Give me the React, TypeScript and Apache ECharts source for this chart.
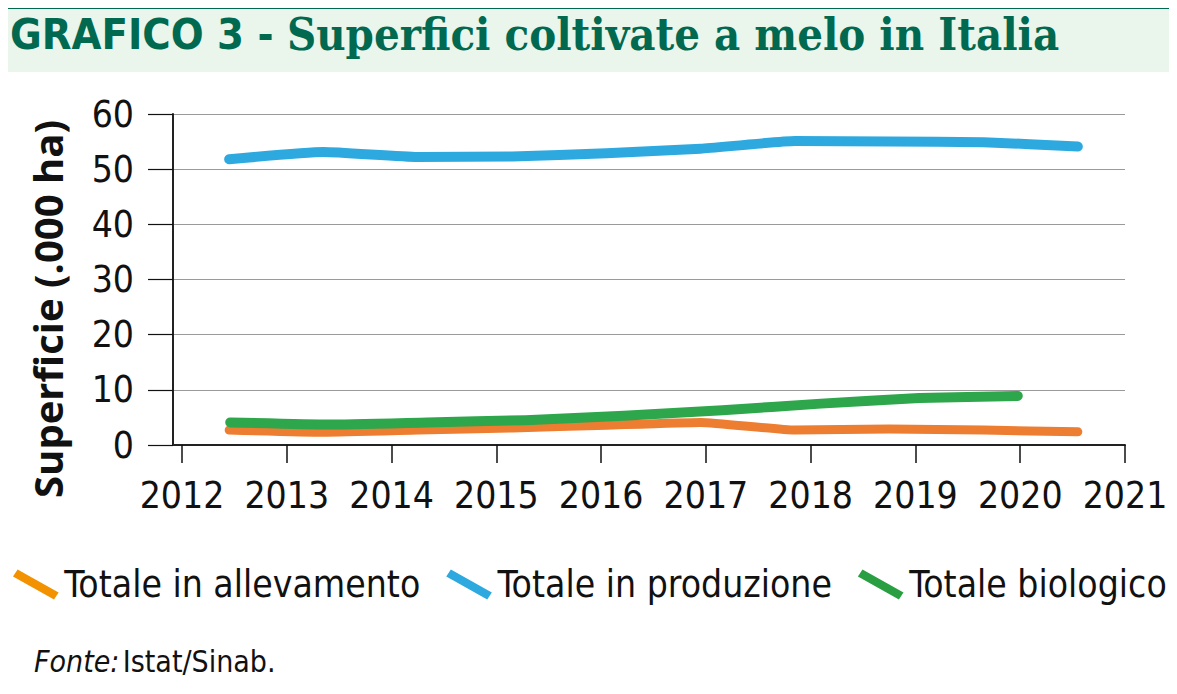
import React, { useEffect, useRef } from "react";
import * as echarts from "echarts";

const years = ["2012", "2013", "2014", "2015", "2016", "2017", "2018", "2019", "2020", "2021"];
const yearsBio = ["2012", "2013", "2014", "2015", "2016", "2017", "2018", "2019", "2020"];
const xTickLabels = [2012, 2013, 2014, 2015, 2016, 2017, 2018, 2019, 2020, 2021];
const allevamento = [2.7, 2.3, 2.7, 3.1, 3.6, 4.1, 2.7, 2.9, 2.7, 2.4];
const produzione = [51.8, 53.1, 52.2, 52.3, 52.9, 53.7, 55.1, 55.0, 54.9, 54.1];
const biologico = [4.1, 3.7, 4.1, 4.5, 5.3, 6.3, 7.5, 8.5, 8.9];

const NARROW = '"Liberation Sans Narrow", "DejaVu Sans Condensed", "Roboto", sans-serif';
const TITLE_GREEN = "#00694F";

export default function App() {
  const ref = useRef<HTMLDivElement>(null);
  useEffect(() => {
    if (!ref.current) return;
    const chart = echarts.init(ref.current, undefined, { renderer: "svg" });
    const top = 114;
    const bottom = 694 - 445;
    const hiddenY = { type: "value", min: 0, max: 60, show: false };
    const lineStyleBase = { width: 10, cap: "round", join: "round" };
    chart.setOption({
      animation: false,
      backgroundColor: "#ffffff",
      grid: [
        { left: 173, right: 52, top, bottom },
        { left: 182, right: 52, top, bottom },
        { left: 181, right: 110, top, bottom },
      ],
      xAxis: [
        {
          type: "value",
          gridIndex: 0,
          min: 2011.914,
          max: 2021,
          splitLine: { show: false },
          axisLine: { show: true, lineStyle: { color: "#222", width: 2 } },
          axisTick: {
            show: true,
            length: 18,
            customValues: xTickLabels,
            lineStyle: { color: "#111", width: 1.5 },
          },
          axisLabel: {
            customValues: xTickLabels,
            margin: 32,
            fontSize: 37,
            fontFamily: NARROW,
            color: "#111",
            formatter: (v: number) => String(v),
          },
        },
        { type: "category", gridIndex: 1, data: years, boundaryGap: true, show: false },
        { type: "category", gridIndex: 2, data: yearsBio, boundaryGap: true, show: false },
      ],
      yAxis: [
        {
          type: "value",
          gridIndex: 0,
          min: 0,
          max: 60,
          interval: 10,
          axisLine: { show: true, lineStyle: { color: "#222", width: 2 } },
          axisTick: { show: true, length: 25, inside: false, lineStyle: { color: "#111", width: 1.2 } },
          axisLabel: { margin: 39, fontSize: 37, fontFamily: NARROW, color: "#111" },
          splitLine: { show: true, lineStyle: { color: "#9a9a9a", width: 1.2 } },
        },
        { ...hiddenY, gridIndex: 1 },
        { ...hiddenY, gridIndex: 2 },
      ],
      legend: {
        left: 8,
        top: 561,
        width: 1170,
        itemWidth: 47,
        itemHeight: 30,
        itemGap: 26,
        icon: "path://M5.3,0L0.7,7L41.7,30L46.3,23Z",
        textStyle: { fontSize: 37, fontFamily: NARROW, color: "#111" },
        data: [
          { name: "Totale in allevamento", itemStyle: { color: "#F39200" } },
          { name: "Totale in produzione", itemStyle: { color: "#2EA9DF" } },
          { name: "Totale biologico", itemStyle: { color: "#2A9F42" } },
        ],
      },
      series: [
        {
          name: "Totale in allevamento",
          type: "line",
          xAxisIndex: 1,
          yAxisIndex: 1,
          data: allevamento,
          showSymbol: false,
          smooth: 0.15,
          itemStyle: { color: "#ED7D31" },
          lineStyle: { ...lineStyleBase, width: 9, color: "#ED7D31" },
        },
        {
          name: "Totale in produzione",
          type: "line",
          xAxisIndex: 1,
          yAxisIndex: 1,
          data: produzione,
          showSymbol: false,
          smooth: 0.15,
          itemStyle: { color: "#2EA9DF" },
          lineStyle: { ...lineStyleBase, color: "#2EA9DF" },
        },
        {
          name: "Totale biologico",
          type: "line",
          xAxisIndex: 2,
          yAxisIndex: 2,
          data: biologico,
          showSymbol: false,
          smooth: 0.15,
          itemStyle: { color: "#2EA64B" },
          lineStyle: { ...lineStyleBase, color: "#2EA64B" },
        },
      ],
      graphic: [
        { type: "rect", left: 4, top: 4, shape: { width: 1169, height: 5 }, style: { fill: TITLE_GREEN } },
        { type: "rect", left: 4, top: 9, shape: { width: 1169, height: 63 }, style: { fill: "#EAF5EC" } },
        {
          type: "text",
          x: 10,
          y: 34,
          style: {
            text: "{a|GRAFICO 3 - }{b|Superfici coltivate a melo in Italia}",
            verticalAlign: "middle",
            rich: {
              a: { fontFamily: NARROW, fontWeight: "bold", fontSize: 43, fill: TITLE_GREEN },
              b: { fontFamily: '"DejaVu Serif Condensed", "Liberation Serif", serif', fontWeight: "bold", fontSize: 45, fill: TITLE_GREEN },
            },
          },
        },
        {
          type: "text",
          x: 47,
          y: 309,
          rotation: Math.PI / 2,
          style: {
            text: "Superficie (.000 ha)",
            align: "center",
            verticalAlign: "middle",
            fontFamily: '"Open Sans", "Noto Sans", sans-serif',
            fontWeight: "bold",
            fontSize: 40,
            fill: "#111",
          },
        },
        {
          type: "text",
          x: 34,
          y: 661,
          style: {
            text: "{i|Fonte:} {n|Istat/Sinab.}",
            verticalAlign: "middle",
            rich: {
              i: { fontFamily: NARROW, fontStyle: "italic", fontSize: 30, fill: "#111" },
              n: { fontFamily: NARROW, fontSize: 30, fill: "#111" },
            },
          },
        },
      ],
    });
    return () => chart.dispose();
  }, []);
  return <div ref={ref} style={{ width: 1177, height: 694, margin: -8 }} />;
}
